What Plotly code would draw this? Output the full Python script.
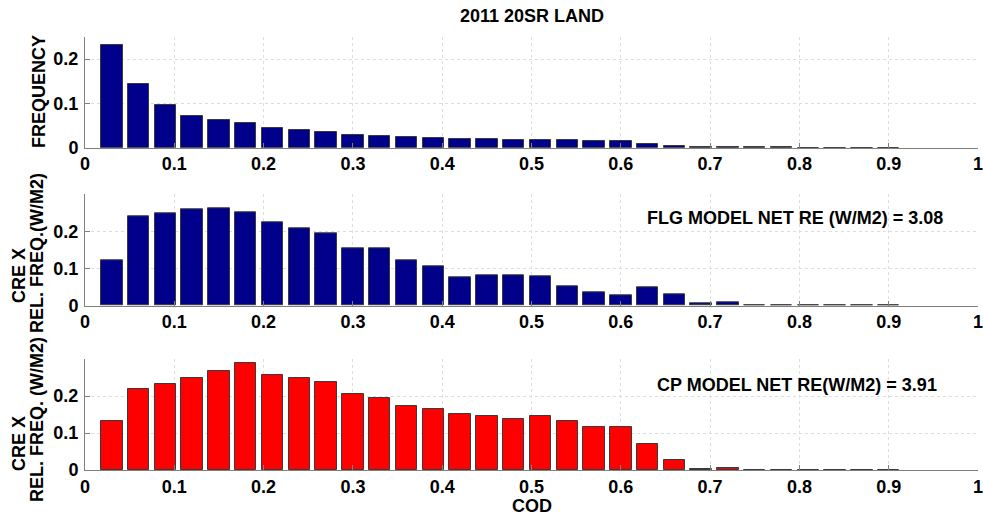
import plotly.graph_objects as go

# COD bin centres
cod_bins = [0.03, 0.06, 0.09, 0.12, 0.15, 0.18, 0.21, 0.24, 0.27, 0.30,
            0.33, 0.36, 0.39, 0.42, 0.45, 0.48, 0.51, 0.54, 0.57, 0.60,
            0.63, 0.66, 0.69, 0.72, 0.75, 0.78, 0.81, 0.84, 0.87, 0.90]

# relative frequency of occurrence per COD bin
frequency = [0.232, 0.143, 0.0975, 0.071, 0.0616, 0.0548, 0.045, 0.0398, 0.0346, 0.0292,
             0.0263, 0.0234, 0.021, 0.0195, 0.019, 0.0173, 0.0173, 0.017, 0.0144, 0.015,
             0.009, 0.0045, 0.002, 0.0006, 0.0005, 0.0005, 0.0004, 0.0004, 0.0003, 0.0]

# CRE x relative frequency, FLG model
flg_cre = [0.123, 0.240, 0.249, 0.260, 0.263, 0.251, 0.224, 0.209, 0.196, 0.155,
           0.153, 0.123, 0.107, 0.077, 0.082, 0.082, 0.078, 0.051, 0.037, 0.028,
           0.049, 0.031, 0.006, 0.009, 0.002, 0.002, 0.0005, 0.001, 0.002, 0.0]

# CRE x relative frequency, CP model
cp_cre = [0.132, 0.219, 0.232, 0.248, 0.268, 0.289, 0.257, 0.248, 0.237, 0.205,
          0.195, 0.173, 0.165, 0.152, 0.145, 0.138, 0.145, 0.133, 0.116, 0.116,
          0.069, 0.028, 0.004, 0.005, 0.001, 0.001, 0.001, 0.001, 0.001, 0.0]

x_ticks = [0, 0.1, 0.2, 0.3, 0.4, 0.5, 0.6, 0.7, 0.8, 0.9, 1]
x_tick_text = ["0", "0.1", "0.2", "0.3", "0.4", "0.5", "0.6", "0.7", "0.8", "0.9", "1"]
y_ticks = [0, 0.1, 0.2]
y_tick_text = ["0", "0.1", "0.2"]

title_text = "2011 20SR LAND"
flg_note = "FLG MODEL NET RE (W/M2) = 3.08"
cp_note = "CP MODEL NET RE(W/M2) = 3.91"

W, H = 983, 517
FONT = "Liberation Sans, Arial, Helvetica, sans-serif"
FS = 18
NAVY = "#00008b"
RED = "#ff0000"
EDGE = "#3a3a3a"
AXIS = "#808080"
GRID = "#dedede"

x_dom = [85 / W, 978 / W]
panels = [  # (top px, bottom px, y range, values, colour)
    (37, 147.7, 0.25, frequency, NAVY),
    (194.3, 305.7, 0.2995, flg_cre, NAVY),
    (359, 470, 0.3, cp_cre, RED),
]


def bold(size=FS):
    return dict(family=FONT, size=size, color="black", weight="bold")


fig = go.Figure()
layout = dict(
    width=W, height=H,
    margin=dict(l=0, r=0, t=0, b=0, autoexpand=False),
    paper_bgcolor="white", plot_bgcolor="white",
    showlegend=False,
    font=bold(),
    bargap=0,
)

for i, (top, bot, ymax, vals, col) in enumerate(panels, start=1):
    sfx = "" if i == 1 else str(i)
    fig.add_trace(go.Bar(
        x=cod_bins, y=vals, width=0.024,
        marker=dict(color=col, line=dict(color=EDGE, width=1)),
        xaxis="x" + sfx, yaxis="y" + sfx,
    ))
    layout["xaxis" + sfx] = dict(
        domain=x_dom, anchor="y" + sfx, range=[0, 1], automargin=False,
        tickvals=x_ticks, ticktext=x_tick_text, ticklabeloverflow="allow",
        ticks="inside", ticklen=5, tickcolor=AXIS, tickwidth=1,
        showline=True, linecolor=AXIS, linewidth=1,
        showgrid=True, gridcolor=GRID, griddash="dot", gridwidth=1,
        zeroline=False, ticklabelstandoff=0,
        tickfont=bold(),
    )
    layout["yaxis" + sfx] = dict(
        domain=[(H - bot) / H, (H - top) / H], anchor="x" + sfx,
        range=[0, ymax], tickvals=y_ticks, ticktext=y_tick_text, automargin=False,
        ticks="inside", ticklen=5, tickcolor=AXIS, tickwidth=1,
        showline=True, linecolor=AXIS, linewidth=1,
        showgrid=True, gridcolor=GRID, griddash="dot", gridwidth=1,
        zeroline=False, ticklabelstandoff=2,
        tickfont=bold(),
    )

fig.update_layout(**layout)


def px_note(text, xpx, ypx, angle=0, size=FS):
    fig.add_annotation(
        text=text, x=xpx / W, y=(H - ypx) / H, xref="paper", yref="paper",
        showarrow=False, textangle=angle, xanchor="center", yanchor="middle",
        font=bold(size),
    )


# title and axis labels
px_note(title_text, 531.5, 16)
px_note("COD", 531.5, 506)
px_note("FREQUENCY", 39, 92, angle=-90)
px_note("CRE X", 19, 276, angle=-90)
px_note("REL. FREQ.(W/M2)", 37, 253, angle=-90)
px_note("CRE X", 19, 444, angle=-90)
px_note("REL. FREQ. (W/M2)", 37, 420, angle=-90)

# model net radiative effect notes
fig.add_annotation(text=flg_note, x=0.795, y=0.237, xref="x2", yref="y2",
                   showarrow=False, font=bold())
fig.add_annotation(text=cp_note, x=0.797, y=0.23, xref="x3", yref="y3",
                   showarrow=False, font=bold())

fig.write_html("out.html")
